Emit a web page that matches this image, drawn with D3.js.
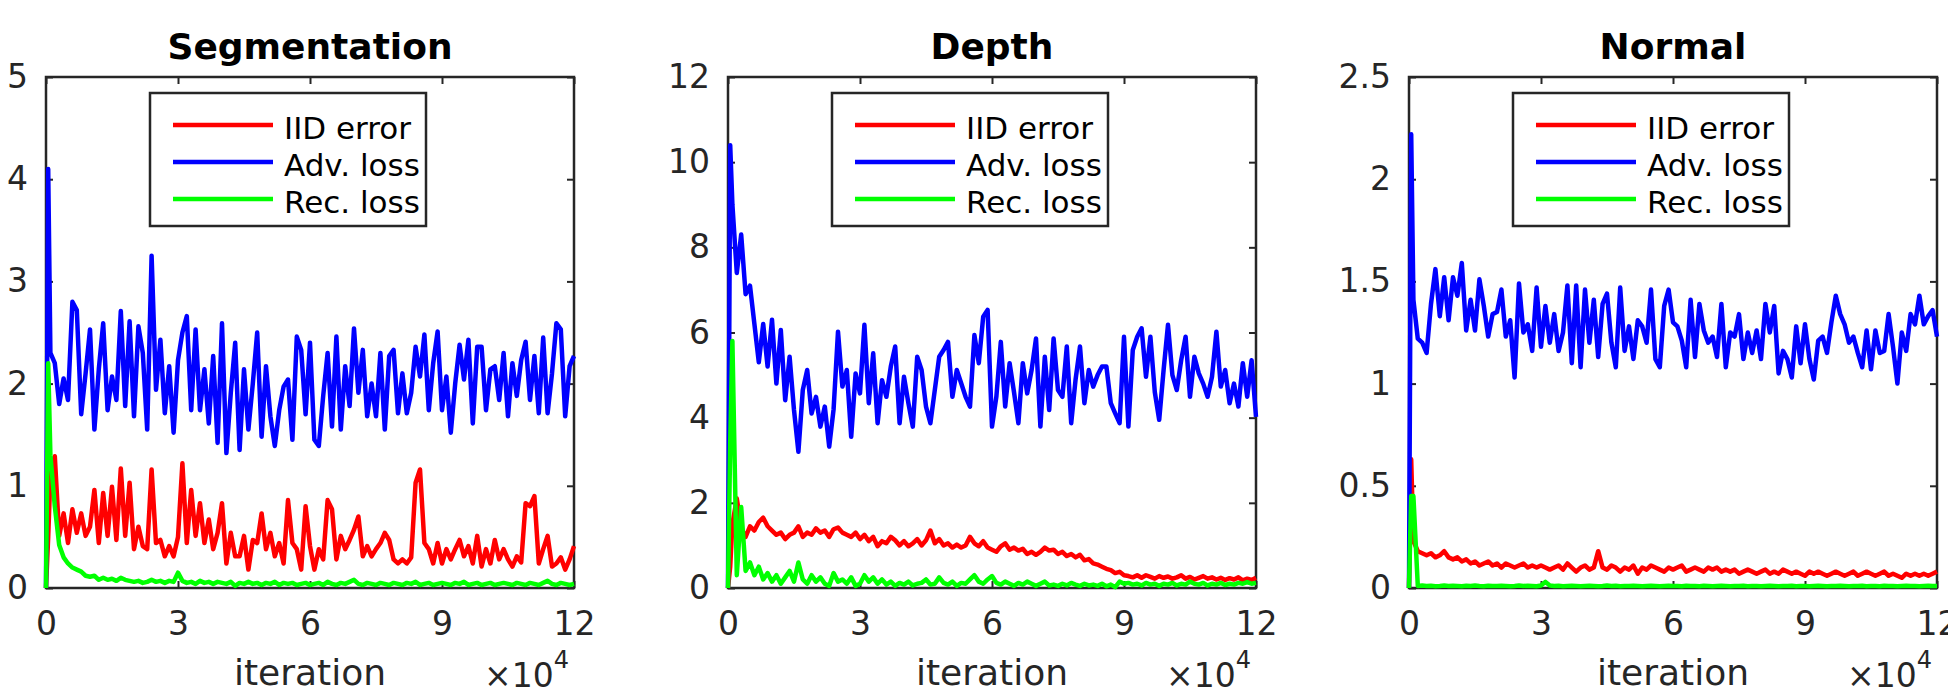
<!DOCTYPE html>
<html lang="en">
<head>
    <meta charset="UTF-8">
    <title>IID error / Adv. loss / Rec. loss</title>
    <script src="https://cdn.jsdelivr.net/npm/d3@7"></script>
    <style>
        body { margin: 0; background: #fff; }
        text { font-family: "DejaVu Sans", sans-serif; }
    </style>
</head>
<body>
<script>
    // logged at iteration 0, 500, then every 1000
    const iterations = [0, 500].concat(d3.range(1000, 120001, 1000));

    const seriesNames = ["IID error", "Adv. loss", "Rec. loss"];
    const seriesColors = ["#ff0000", "#0000ff", "#00ff00"];
    const panelTitles = ["Segmentation", "Depth", "Normal"];
    const yMaxes = [5, 12, 2.5];
    const yTickValues = [[0, 1, 2, 3, 4, 5], [0, 2, 4, 6, 8, 10, 12], [0, 0.5, 1, 1.5, 2, 2.5]];
    const xTickValues = [0, 30000, 60000, 90000, 120000];

    // Segmentation
    const segIID = [0, 0.5, 1.1, 1.29, 0.51, 0.73, 0.44, 0.77, 0.54, 0.73, 0.51, 0.60,
        0.96, 0.44, 0.93, 0.51, 0.99, 0.47, 1.17, 0.51, 1.03, 0.38,
        0.60, 0.41, 0.38, 1.16, 0.44, 0.47, 0.31, 0.41, 0.31, 0.50,
        1.22, 0.44, 0.96, 0.51, 0.83, 0.44, 0.67, 0.38, 0.54, 0.83,
        0.24, 0.54, 0.31, 0.31, 0.51, 0.18, 0.47, 0.44, 0.73, 0.38,
        0.54, 0.31, 0.44, 0.24, 0.86, 0.44, 0.38, 0.18, 0.80, 0.41,
        0.18, 0.38, 0.28, 0.86, 0.77, 0.28, 0.51, 0.38, 0.47, 0.57,
        0.70, 0.31, 0.41, 0.31, 0.38, 0.44, 0.54, 0.47, 0.28, 0.24,
        0.28, 0.24, 0.30, 1.03, 1.16, 0.44, 0.38, 0.24, 0.44, 0.24,
        0.38, 0.28, 0.38, 0.47, 0.31, 0.41, 0.24, 0.51, 0.21, 0.38,
        0.24, 0.47, 0.28, 0.38, 0.28, 0.21, 0.31, 0.25, 0.83, 0.80,
        0.90, 0.24, 0.38, 0.51, 0.21, 0.24, 0.30, 0.18, 0.28, 0.41];
    const segAdv = [0, 4.1, 2.3, 2.2, 1.8, 2.05, 1.84, 2.8, 2.72, 1.7, 2.1, 2.53,
        1.55, 2.14, 2.59, 1.74, 2.07, 1.84, 2.71, 1.78, 2.61, 1.68,
        2.56, 2.30, 1.55, 3.25, 1.94, 2.43, 1.71, 2.17, 1.52, 2.23,
        2.50, 2.66, 1.74, 2.53, 1.74, 2.14, 1.61, 2.27, 1.42, 2.59,
        1.32, 1.91, 2.40, 1.35, 2.14, 1.55, 2.00, 2.50, 1.48, 2.17,
        1.68, 1.39, 1.74, 1.97, 2.04, 1.45, 2.46, 2.33, 1.70, 2.40,
        1.45, 1.39, 1.88, 2.30, 1.58, 2.46, 1.55, 2.17, 1.78, 2.54,
        1.91, 2.33, 1.68, 2.00, 1.68, 2.30, 1.55, 2.27, 2.33, 1.71,
        2.10, 1.71, 1.91, 2.36, 2.07, 2.48, 1.74, 2.20, 2.51, 1.74,
        2.07, 1.52, 2.00, 2.38, 2.04, 2.43, 1.61, 2.36, 2.36, 1.74,
        2.14, 2.17, 1.84, 2.30, 1.68, 2.20, 1.88, 2.23, 2.41, 1.84,
        2.27, 1.71, 2.45, 1.71, 2.10, 2.59, 2.53, 1.68, 2.17, 2.27];
    const segRec = [0, 2.2, 1.3, 0.8, 0.42, 0.3, 0.24, 0.2, 0.18, 0.16, 0.12, 0.11,
        0.12, 0.08, 0.10, 0.08, 0.09, 0.07, 0.10, 0.08, 0.07, 0.06,
        0.07, 0.05, 0.06, 0.08, 0.06, 0.07, 0.05, 0.07, 0.06, 0.15,
        0.07, 0.05, 0.06, 0.04, 0.07, 0.05, 0.06, 0.04, 0.06, 0.05,
        0.04, 0.06, 0.02, 0.05, 0.04, 0.06, 0.04, 0.05, 0.03, 0.05,
        0.04, 0.06, 0.03, 0.05, 0.04, 0.05, 0.03, 0.04, 0.05, 0.03,
        0.04, 0.05, 0.03, 0.06, 0.04, 0.03, 0.05, 0.04, 0.06, 0.08,
        0.04, 0.03, 0.05, 0.04, 0.03, 0.05, 0.04, 0.03, 0.05, 0.04,
        0.03, 0.05, 0.04, 0.06, 0.03, 0.04, 0.05, 0.03, 0.04, 0.05,
        0.04, 0.03, 0.05, 0.04, 0.06, 0.03, 0.04, 0.05, 0.03, 0.04,
        0.05, 0.03, 0.04, 0.05, 0.04, 0.03, 0.05, 0.04, 0.03, 0.05,
        0.04, 0.03, 0.05, 0.07, 0.04, 0.03, 0.05, 0.04, 0.03, 0.04];

    // Depth
    const depthIID = [0, 0.5, 1.5, 2.1, 1.4, 1.2, 1.45, 1.35, 1.55, 1.65, 1.45, 1.35,
        1.25, 1.3, 1.15, 1.25, 1.3, 1.45, 1.2, 1.3, 1.25, 1.4,
        1.3, 1.35, 1.2, 1.38, 1.42, 1.3, 1.25, 1.2, 1.3, 1.15,
        1.25, 1.1, 1.2, 0.98, 1.1, 1.05, 1.2, 1.12, 1.0, 1.1,
        0.98, 1.05, 1.15, 1.0, 1.12, 1.35, 1.05, 1.15, 1.0, 1.05,
        0.95, 1.02, 0.95, 1.0, 1.2, 1.05, 0.98, 1.1, 0.95, 0.9,
        0.85, 0.98, 1.05, 0.9, 0.95, 0.88, 0.92, 0.8, 0.85, 0.78,
        0.85, 0.95, 0.88, 0.9, 0.8, 0.85, 0.75, 0.8, 0.72, 0.78,
        0.65, 0.68, 0.58, 0.55, 0.5, 0.45, 0.42, 0.35, 0.38, 0.3,
        0.28, 0.25, 0.3, 0.24, 0.3, 0.26, 0.22, 0.28, 0.24, 0.27,
        0.22, 0.25, 0.3, 0.22, 0.26, 0.2, 0.24, 0.28, 0.22, 0.25,
        0.2, 0.24, 0.19, 0.23, 0.2, 0.25, 0.18, 0.22, 0.19, 0.24];
    const depthAdv = [0, 10.4, 9.0, 7.4, 8.3, 6.9, 7.1, 6.2, 5.3, 6.2, 5.2, 6.3,
        4.8, 6.06, 4.41, 5.43, 4.18, 3.2, 4.65, 5.12, 4.1, 4.49,
        3.79, 4.26, 3.32, 4.2, 6.02, 4.73, 5.12, 3.55, 5.04, 4.57,
        6.18, 4.34, 5.51, 3.87, 4.88, 4.49, 5.2, 5.67, 3.87, 4.96,
        4.34, 3.79, 5.43, 5.12, 4.26, 3.87, 4.65, 5.43, 5.59, 5.78,
        4.49, 5.12, 4.81, 4.49, 4.26, 5.94, 5.28, 6.37, 6.53, 3.79,
        4.5, 5.78, 4.26, 5.28, 4.6, 3.87, 5.28, 4.57, 5.12, 5.86,
        3.79, 5.43, 4.18, 5.86, 4.65, 4.49, 5.67, 3.87, 4.9, 5.67,
        4.34, 5.12, 4.73, 5.0, 5.2, 5.2, 4.34, 4.1, 3.87, 5.9,
        3.79, 5.59, 5.9, 6.1, 4.96, 5.9, 4.6, 3.95, 5.12, 6.18,
        5.0, 4.65, 5.35, 5.9, 4.49, 5.43, 5.04, 4.8, 4.49, 4.96,
        6.02, 4.73, 5.12, 4.34, 4.8, 4.26, 5.28, 4.49, 5.35, 4.02];
    const depthRec = [0, 3.4, 5.8, 0.3, 1.9, 0.4, 0.6, 0.3, 0.5, 0.2, 0.35, 0.15,
        0.3, 0.1, 0.25, 0.4, 0.15, 0.6, 0.2, 0.1, 0.3, 0.15,
        0.25, 0.1, 0.05, 0.35, 0.15, 0.2, 0.1, 0.25, 0.05, 0.1,
        0.3, 0.15, 0.25, 0.1, 0.2, 0.08, 0.15, 0.05, 0.12, 0.08,
        0.15, 0.06, 0.1, 0.12, 0.2, 0.08, 0.1, 0.25, 0.12, 0.08,
        0.15, 0.05, 0.12, 0.1, 0.2, 0.3, 0.15, 0.1, 0.2, 0.28,
        0.12, 0.08, 0.15, 0.1, 0.05, 0.12, 0.08, 0.15, 0.1, 0.05,
        0.1, 0.15, 0.06, 0.08, 0.05, 0.1, 0.06, 0.12, 0.08, 0.05,
        0.1, 0.06, 0.08, 0.05, 0.1, 0.04, 0.08, 0.02, 0.15, 0.1,
        0.12, 0.08, 0.1, 0.06, 0.12, 0.08, 0.1, 0.05, 0.1, 0.08,
        0.12, 0.06, 0.1, 0.08, 0.15, 0.1, 0.08, 0.12, 0.06, 0.1,
        0.08, 0.12, 0.07, 0.1, 0.08, 0.12, 0.1, 0.14, 0.1, 0.12];

    // Normal
    const normIID = [0, 0.63, 0.23, 0.18, 0.17, 0.16, 0.17, 0.15, 0.16, 0.18, 0.15, 0.14,
        0.15, 0.13, 0.14, 0.12, 0.13, 0.11, 0.12, 0.13, 0.11, 0.12,
        0.10, 0.12, 0.11, 0.10, 0.11, 0.12, 0.10, 0.11, 0.10, 0.11,
        0.10, 0.09, 0.10, 0.11, 0.09, 0.12, 0.10, 0.08, 0.10, 0.11,
        0.09, 0.10, 0.18, 0.10, 0.09, 0.11, 0.10, 0.08, 0.10, 0.09,
        0.11, 0.07, 0.10, 0.09, 0.11, 0.10, 0.09, 0.08, 0.10, 0.09,
        0.10, 0.11, 0.08, 0.09, 0.10, 0.09, 0.08, 0.10, 0.09, 0.10,
        0.08, 0.09, 0.08, 0.09, 0.07, 0.08, 0.09, 0.08, 0.07, 0.08,
        0.09, 0.07, 0.08, 0.07, 0.09, 0.08, 0.07, 0.08, 0.07, 0.06,
        0.08, 0.07, 0.08, 0.07, 0.06, 0.07, 0.08, 0.07, 0.06, 0.07,
        0.08, 0.06, 0.07, 0.08, 0.07, 0.06, 0.07, 0.08, 0.06, 0.07,
        0.06, 0.05, 0.07, 0.06, 0.07, 0.06, 0.07, 0.06, 0.07, 0.08];
    const normAdv = [0, 2.22, 1.41, 1.22, 1.2, 1.15, 1.39, 1.56, 1.33, 1.52, 1.31, 1.52,
        1.43, 1.59, 1.26, 1.41, 1.26, 1.51, 1.38, 1.23, 1.34, 1.35,
        1.46, 1.23, 1.31, 1.03, 1.49, 1.25, 1.29, 1.16, 1.47, 1.18,
        1.38, 1.2, 1.34, 1.16, 1.25, 1.48, 1.10, 1.48, 1.08, 1.46,
        1.2, 1.41, 1.13, 1.39, 1.44, 1.2, 1.08, 1.47, 1.16, 1.28,
        1.12, 1.31, 1.28, 1.2, 1.46, 1.12, 1.08, 1.38, 1.46, 1.3,
        1.28, 1.21, 1.08, 1.41, 1.13, 1.39, 1.26, 1.2, 1.23, 1.13,
        1.39, 1.08, 1.25, 1.23, 1.34, 1.12, 1.25, 1.15, 1.26, 1.12,
        1.39, 1.25, 1.38, 1.05, 1.16, 1.12, 1.03, 1.28, 1.1, 1.29,
        1.12, 1.02, 1.21, 1.23, 1.15, 1.3, 1.43, 1.34, 1.29, 1.2,
        1.23, 1.15, 1.08, 1.26, 1.07, 1.26, 1.15, 1.16, 1.34, 1.18,
        1.0, 1.25, 1.16, 1.34, 1.29, 1.43, 1.29, 1.33, 1.36, 1.23];
    const normRec = [0, 0.45, 0.45, 0.01, 0.012, 0.01, 0.011, 0.009, 0.01, 0.012, 0.01, 0.011,
        0.01, 0.009, 0.011, 0.01, 0.012, 0.01, 0.009, 0.011, 0.01, 0.01,
        0.011, 0.01, 0.009, 0.01, 0.012, 0.01, 0.011, 0.01, 0.009, 0.012,
        0.03, 0.012, 0.01, 0.011, 0.009, 0.01, 0.011, 0.01, 0.009, 0.01,
        0.011, 0.01, 0.009, 0.01, 0.012, 0.01, 0.011, 0.009, 0.01, 0.01,
        0.011, 0.01, 0.009, 0.01, 0.011, 0.01, 0.009, 0.01, 0.011, 0.01,
        0.01, 0.009, 0.011, 0.01, 0.01, 0.009, 0.011, 0.01, 0.009, 0.01,
        0.011, 0.01, 0.009, 0.01, 0.01, 0.011, 0.009, 0.01, 0.01, 0.009,
        0.01, 0.011, 0.01, 0.009, 0.01, 0.01, 0.011, 0.009, 0.01, 0.01,
        0.009, 0.01, 0.011, 0.01, 0.009, 0.01, 0.01, 0.011, 0.01, 0.009,
        0.01, 0.01, 0.011, 0.009, 0.01, 0.01, 0.009, 0.011, 0.01, 0.01,
        0.009, 0.01, 0.011, 0.01, 0.01, 0.009, 0.01, 0.011, 0.01, 0.01];

    const panelSeries = [
        [segIID, segAdv, segRec],
        [depthIID, depthAdv, depthRec],
        [normIID, normAdv, normRec]
    ];

    // layout
    const W = 1948, H = 696;
    const plotTop = 77, plotBottom = 588, plotW = 528;
    const lefts = [46, 728, 1409];
    const axisColor = "#262626";

    const svg = d3.select("body").append("svg")
        .attr("width", W)
        .attr("height", H);

    function styleAxis(sel, size) {
        sel.attr("font-family", "DejaVu Sans").attr("font-size", size);
        sel.select(".domain").remove();
        sel.selectAll(".tick line").attr("stroke", axisColor).attr("stroke-width", 2);
        sel.selectAll(".tick text").attr("fill", axisColor);
    }

    panelTitles.forEach((title, p) => {
        const left = lefts[p], right = left + plotW;
        const x = d3.scaleLinear().domain([0, 120000]).range([left, right]);
        const y = d3.scaleLinear().domain([0, yMaxes[p]]).range([plotBottom, plotTop]);
        const g = svg.append("g");

        // box
        g.append("rect")
            .attr("x", left).attr("y", plotTop)
            .attr("width", plotW).attr("height", plotBottom - plotTop)
            .attr("fill", "none").attr("stroke", axisColor).attr("stroke-width", 2.5);

        g.append("g").attr("transform", `translate(0,${plotBottom})`)
            .call(d3.axisBottom(x).tickValues(xTickValues).tickFormat(d => d / 1e4)
                .tickSizeInner(-7).tickSizeOuter(0).tickPadding(24))
            .call(styleAxis, 33);
        g.append("g").attr("transform", `translate(0,${plotTop})`)
            .call(d3.axisTop(x).tickValues(xTickValues).tickFormat(() => "")
                .tickSizeInner(-7).tickSizeOuter(0))
            .call(styleAxis, 33);
        g.append("g").attr("transform", `translate(${left},0)`)
            .call(d3.axisLeft(y).tickValues(yTickValues[p]).tickFormat(d => String(d))
                .tickSizeInner(-7).tickSizeOuter(0).tickPadding(18))
            .call(styleAxis, 33);
        g.append("g").attr("transform", `translate(${right},0)`)
            .call(d3.axisRight(y).tickValues(yTickValues[p]).tickFormat(() => "")
                .tickSizeInner(-7).tickSizeOuter(0))
            .call(styleAxis, 33);

        // lines
        const line = d3.line()
            .x((d, i) => x(iterations[i]))
            .y(d => y(d));
        panelSeries[p].forEach((vals, k) => {
            g.append("path")
                .datum(vals)
                .attr("d", line)
                .attr("fill", "none")
                .attr("stroke", seriesColors[k])
                .attr("stroke-width", 4.5)
                .attr("stroke-linejoin", "round");
        });

        // title
        g.append("text")
            .attr("x", (left + right) / 2).attr("y", 59)
            .attr("text-anchor", "middle")
            .attr("font-size", 36).attr("font-weight", "bold")
            .attr("fill", "#000")
            .text(title);

        // x label + exponent
        g.append("text")
            .attr("x", (left + right) / 2).attr("y", 685)
            .attr("text-anchor", "middle")
            .attr("font-size", 36).attr("fill", axisColor)
            .text("iteration");
        const ex = g.append("text")
            .attr("x", right - 5).attr("y", 687)
            .attr("text-anchor", "end")
            .attr("font-size", 33).attr("fill", axisColor);
        ex.append("tspan").text("\u00d710");
        ex.append("tspan").attr("dy", -19).attr("font-size", 24).text("4");

        // legend (MATLAB 'north', sits a bit left of centre)
        const lw = 276, lh = 133;
        const lx = (left + right) / 2 - 22 - lw / 2, ly = 93;
        const leg = g.append("g").attr("transform", `translate(${lx},${ly})`);
        leg.append("rect")
            .attr("width", lw).attr("height", lh)
            .attr("fill", "#fff").attr("stroke", axisColor).attr("stroke-width", 2.5);
        seriesNames.forEach((name, k) => {
            const ry = 32 + k * 37;
            leg.append("line")
                .attr("x1", 23).attr("x2", 123)
                .attr("y1", ry).attr("y2", ry)
                .attr("stroke", seriesColors[k]).attr("stroke-width", 4.5);
            leg.append("text")
                .attr("x", 134).attr("y", ry + 3)
                .attr("dominant-baseline", "central")
                .attr("font-size", 31).attr("fill", "#000")
                .text(name);
        });
    });
</script>
</body>
</html>
